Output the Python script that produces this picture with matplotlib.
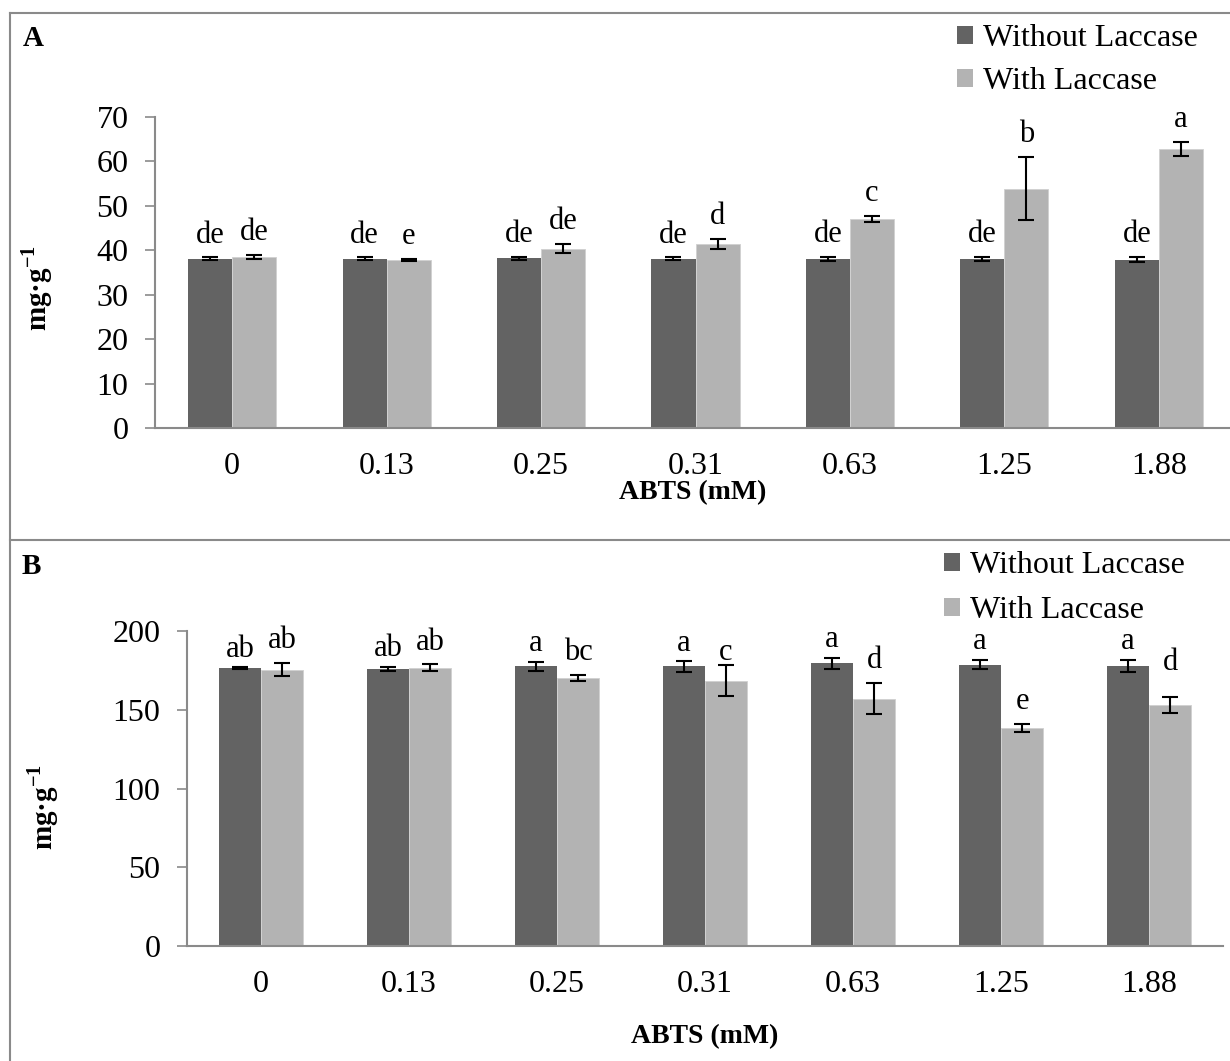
import matplotlib
matplotlib.use("Agg")
import matplotlib.pyplot as plt
from matplotlib.patches import Patch
from matplotlib.lines import Line2D
import numpy as np

plt.rcParams['font.family'] = 'Liberation Serif'
plt.rcParams['mathtext.fontset'] = 'custom'
plt.rcParams['mathtext.rm'] = 'Liberation Serif'
plt.rcParams['mathtext.bf'] = 'Liberation Serif:bold'

# --------- data ----------
abts = ["0", "0.13", "0.25", "0.31", "0.63", "1.25", "1.88"]

# panel A
a_without = [38.1, 38.1, 38.2, 38.1, 38.1, 38.1, 37.9]
a_without_err = [0.3, 0.3, 0.4, 0.3, 0.5, 0.4, 0.6]
a_with = [38.5, 37.9, 40.4, 41.4, 47.0, 53.9, 62.8]
a_with_err = [0.4, 0.2, 1.0, 1.1, 0.7, 7.1, 1.6]
a_without_lab = ["de", "de", "de", "de", "de", "de", "de"]
a_with_lab = ["de", "e", "de", "d", "c", "b", "a"]

# panel B
b_without = [176.6, 175.9, 177.5, 177.5, 179.6, 178.6, 177.9]
b_without_err = [0.5, 1.4, 3.1, 3.4, 3.5, 3.0, 3.7]
b_with = [175.5, 176.6, 170.2, 168.5, 157.1, 138.5, 153.0]
b_with_err = [4.2, 2.2, 1.8, 9.6, 9.8, 2.4, 4.9]
b_without_lab = ["ab", "ab", "a", "a", "a", "a", "a"]
b_with_lab = ["ab", "ab", "bc", "c", "d", "e", "d"]

dark = '#636363'
light = '#b3b3b3'
grey = '#8a8a8a'
W, H = 1230, 1061

fig = plt.figure(figsize=(W / 100, H / 100), dpi=100, facecolor='white')


def px(x0, y0, x1, y1):
    # axes rectangle from pixel corners (top-left origin)
    return [x0 / W, 1 - y1 / H, (x1 - x0) / W, (y1 - y0) / H]


def panel(rect, without, without_err, with_, with_err, lab1, lab2,
          ymax, step, off1=16, nudge2=None):
    ax = fig.add_axes(rect)
    x = np.arange(len(abts))
    w = 0.285
    ax.bar(x - w / 2, without, w, color=dark, zorder=2)
    ax.bar(x + w / 2, with_, w, color=light, edgecolor='#d0d0d0',
           linewidth=0.6, zorder=2)
    ax.errorbar(x - w / 2, without, yerr=without_err, fmt='none',
                ecolor='black', elinewidth=1.5, capsize=5.5, capthick=1.5,
                zorder=3)
    ax.errorbar(x + w / 2, with_, yerr=with_err, fmt='none',
                ecolor='black', elinewidth=1.5, capsize=5.5, capthick=1.5,
                zorder=3)
    if nudge2 is None:
        nudge2 = [0] * len(x)
    for i in range(len(x)):
        ax.annotate(lab1[i], (x[i] - w / 2, without[i] + without_err[i]),
                    xytext=(0, off1), textcoords='offset points',
                    ha='center', va='center', fontsize=22)
        ax.annotate(lab2[i], (x[i] + w / 2, with_[i] + with_err[i]),
                    xytext=(0, 16 + nudge2[i]), textcoords='offset points',
                    ha='center', va='center', fontsize=22)
    ax.set_xlim(-0.5, 6.5)
    ax.set_ylim(0, ymax)
    ax.set_yticks(np.arange(0, ymax + 1, step))
    ax.set_xticks(x)
    ax.set_xticklabels(abts)
    for s in ['top', 'right']:
        ax.spines[s].set_visible(False)
    for s in ['left', 'bottom']:
        ax.spines[s].set_color(grey)
        ax.spines[s].set_linewidth(1.5)
    ax.tick_params(axis='y', length=7, width=1.2, color=grey, pad=12,
                   labelsize=23)
    ax.tick_params(axis='x', length=0, pad=17, labelsize=23)
    ax.set_facecolor('none')
    return ax


axA = panel(px(155, 117, 1236, 428), a_without, a_without_err, a_with,
            a_with_err, a_without_lab, a_with_lab, 70, 10)
axB = panel(px(187, 631, 1223, 946), b_without, b_without_err, b_with,
            b_with_err, b_without_lab, b_with_lab, 200, 50, off1=13,
            nudge2=[0, 0, 0, -7, 0, 0, 9])

# axis titles
ylab = 'mg·g' + r'$^{\mathbf{-1}}$'
fig.text(37 / W, 1 - 288 / H, ylab, rotation=90, ha='center', va='center',
         fontsize=21, fontweight='bold')
fig.text(43 / W, 1 - 807 / H, ylab, rotation=90, ha='center', va='center',
         fontsize=21, fontweight='bold')
fig.text(693 / W, 1 - 493 / H, 'ABTS (mM)', ha='center', va='center',
         fontsize=20, fontweight='bold')
fig.text(705 / W, 1 - 1037 / H, 'ABTS (mM)', ha='center', va='center',
         fontsize=20, fontweight='bold')

# panel letters
fig.text(33 / W, 1 - 38 / H, 'A', ha='center', va='center', fontsize=21,
         fontweight='bold')
fig.text(31 / W, 1 - 566 / H, 'B', ha='center', va='center', fontsize=21,
         fontweight='bold')

# legends
handles = [Patch(facecolor=dark, edgecolor='none', label='Without Laccase'),
           Patch(facecolor=light, edgecolor='none', label='With Laccase')]
fig.legend(handles=handles, loc='upper left',
           bbox_to_anchor=(957 / W, 1 - 24 / H), frameon=False, fontsize=23,
           handlelength=0.5, handleheight=0.5, handletextpad=0.3,
           labelspacing=0.44, borderpad=0, borderaxespad=0)
fig.legend(handles=handles, loc='upper left',
           bbox_to_anchor=(944 / W, 1 - 551 / H), frameon=False, fontsize=23,
           handlelength=0.5, handleheight=0.5, handletextpad=0.3,
           labelspacing=0.5, borderpad=0, borderaxespad=0)

# frame lines around the two panels
for xs, ys in [([10, 10], [13, H]), ([10, W], [13, 13]),
               ([10, W], [540, 540])]:
    fig.add_artist(Line2D([v / W for v in xs], [1 - v / H for v in ys],
                          color=grey, linewidth=1.5))

plt.savefig("out.png", dpi=100, facecolor='white')
